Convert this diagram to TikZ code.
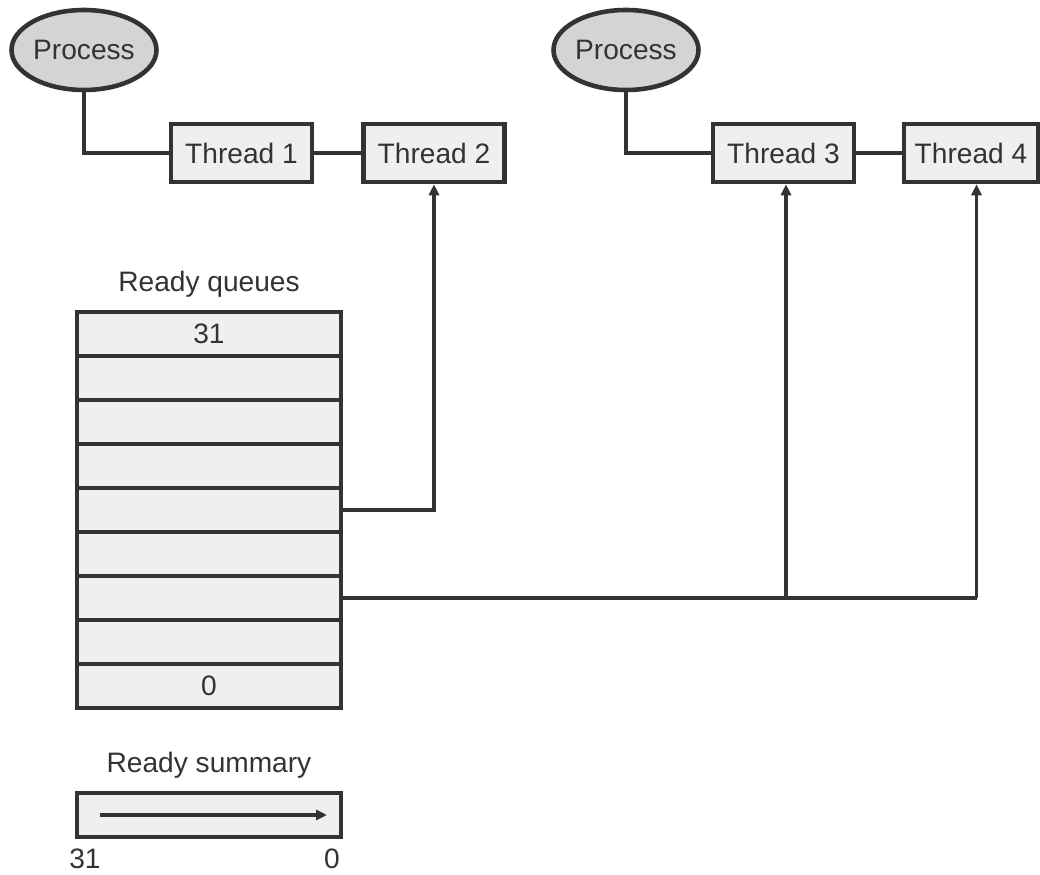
\documentclass[tikz,border=0pt]{standalone}
\usepackage{fontspec}
\setmainfont{Liberation Sans}
\usepackage{tikz}
\usetikzlibrary{arrows.meta, shapes.geometric, positioning}
\usepackage{xcolor}
\definecolor{linegray}{RGB}{51, 51, 51}
\definecolor{procgray}{RGB}{212, 212, 212}
\definecolor{boxgray}{RGB}{239, 239, 239}

\begin{document}
\begin{tikzpicture}[>={Triangle[length=0.22cm, width=0.2cm]},
  every node/.style={text=linegray, font=\fontsize{16}{19}\selectfont},
  procnode/.style={ellipse, draw=linegray, line width=2.6pt, fill=procgray,
    minimum width=2.9cm, minimum height=1.6cm, inner sep=0pt},
  threadbox/.style={rectangle, draw=linegray, line width=2.6pt, fill=boxgray,
    minimum width=2.82cm, minimum height=1.16cm, inner sep=0pt},
  queuerow/.style={rectangle, draw=linegray, line width=2.6pt, fill=boxgray,
    minimum width=5.28cm, minimum height=0.88cm, inner sep=0pt},
  link/.style={draw=linegray, line width=2.1pt}]

  % Page size
  \useasboundingbox (0,0) rectangle (20.8,-17.5);

  % Processes and their threads
  \node[procnode] (p1) at (1.68,-1.00) {Process};
  \node[procnode] (p2) at (12.52,-1.00) {Process};
  \node[threadbox] (t1) at (4.83,-3.06) {Thread 1};
  \node[threadbox] (t2) at (8.68,-3.06) {Thread 2};
  \node[threadbox] (t3) at (15.67,-3.06) {Thread 3};
  \node[threadbox, minimum width=2.68cm] (t4) at (19.42,-3.06) {Thread 4};

  \draw[link] (p1.south) |- (t1.west);
  \draw[link] (t1.east) -- (t2.west);
  \draw[link] (p2.south) |- (t3.west);
  \draw[link] (t3.east) -- (t4.west);

  % Ready queues
  \foreach \i in {1,...,9}
    \node[queuerow] (r\i) at (4.18,{-6.68-0.88*(\i-1)}) {};
  \node at (r1) {31};
  \node at (r9) {0};
  \node[above=0.12cm of r1] (rqlabel) {Ready queues};

  % Queue links to threads
  \draw[link, ->] (r5.east) -| (t2.south);
  \coordinate (a3) at ([xshift=0.05cm]t3.south);
  \coordinate (a4) at ([xshift=0.11cm]t4.south);
  \coordinate (j3) at (a3 |- r7);
  \coordinate (j4) at (a4 |- r7);
  \draw[link] (r7.east) -- (j4);
  \draw[link, ->] (j3) -- (a3);
  \draw[link, ->] (j4) -- (a4);

  % Ready summary
  \node[queuerow] (sum) at (4.18,-16.30) {};
  \node[above=0.12cm of sum] (sumlabel) {Ready summary};
  \coordinate (sa) at (2.00,-16.30);
  \coordinate (sb) at (6.54,-16.30);
  \draw[link, ->] (sa) -- (sb);
  \node (hi) at (1.70,-17.18) {31};
  \node (lo) at (6.64,-17.18) {0};

\end{tikzpicture}
\end{document}
